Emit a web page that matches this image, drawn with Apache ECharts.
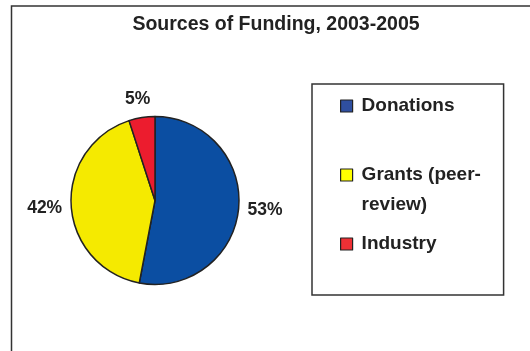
<!DOCTYPE html>
<html><head><meta charset="utf-8">
<script src="https://cdn.jsdelivr.net/npm/echarts@6/dist/echarts.min.js"></script>
<style>html,body{margin:0;padding:0;background:#fff}#c{width:530px;height:351px}</style>
</head><body><div id="c"></div>
<script>
var titleText = 'Sources of Funding, 2003-2005';
var categories = ['Donations', 'Grants (peer-\nreview)', 'Industry'];
var values = [53, 42, 5];
var labels = ['53%', '42%', '5%'];
var sliceColors = ['#0B4EA2', '#F5EA00', '#EC1C2E'];
var legendColors = ['#2F4FA0', '#FFFF00', '#EE3035'];

var FONT = '"Liberation Sans", Arial, sans-serif';
var chart = echarts.init(document.getElementById('c'), null, {renderer: 'canvas'});
chart.setOption({
  animation: false,
  backgroundColor: '#fff',
  graphic: [{
    type: 'rect', silent: true, z: -1,
    shape: {x: 11.5, y: 6, width: 600, height: 400},
    style: {fill: 'none', stroke: '#333', lineWidth: 1.5}
  }],
  title: {
    text: titleText, left: 271, top: 10, textAlign: 'center',
    textStyle: {fontFamily: FONT, fontSize: 19.5, fontWeight: 'bold', color: '#222'}
  },
  legend: {
    orient: 'vertical', left: 312, top: 84,
    padding: [7, 12, 36, 28],
    itemGap: 9, itemWidth: 12, itemHeight: 12,
    borderColor: '#333', borderWidth: 1.5,
    selectedMode: false,
    icon: 'rect',
    itemStyle: {borderColor: '#222', borderWidth: 1.2},
    textStyle: {fontFamily: FONT, fontSize: 19, fontWeight: 'bold', color: '#222', lineHeight: 30, width: 130, padding: [0, 0, 0, 4]},
    formatter: function (name) {
      return name.indexOf('\n') >= 0 ? ' \n' + name : name;
    },
    data: categories.map(function (c, i) {
      return {name: c, itemStyle: {color: legendColors[i]}};
    })
  },
  series: [{
    type: 'pie',
    center: [155, 200.5],
    radius: 84,
    startAngle: 90,
    clockwise: true,
    itemStyle: {borderColor: '#222', borderWidth: 1.5},
    label: {
      show: true, position: 'outside',
      fontFamily: FONT, fontSize: 17.5, fontWeight: 'bold', color: '#222',
      formatter: function (p) { return labels[p.dataIndex]; }
    },
    labelLine: {show: false, length: 2, length2: 2},
    labelLayout: function (p) {
      if (p.dataIndex === 2) return {dx: 16, dy: -2};
      return {dy: 2};
    },
    data: values.map(function (v, i) {
      var d = {name: categories[i], value: v, itemStyle: {color: sliceColors[i]}};
      if (i === 2) d.labelLine = {length: 17, length2: 0};
      return d;
    })
  }]
});
</script></body></html>
